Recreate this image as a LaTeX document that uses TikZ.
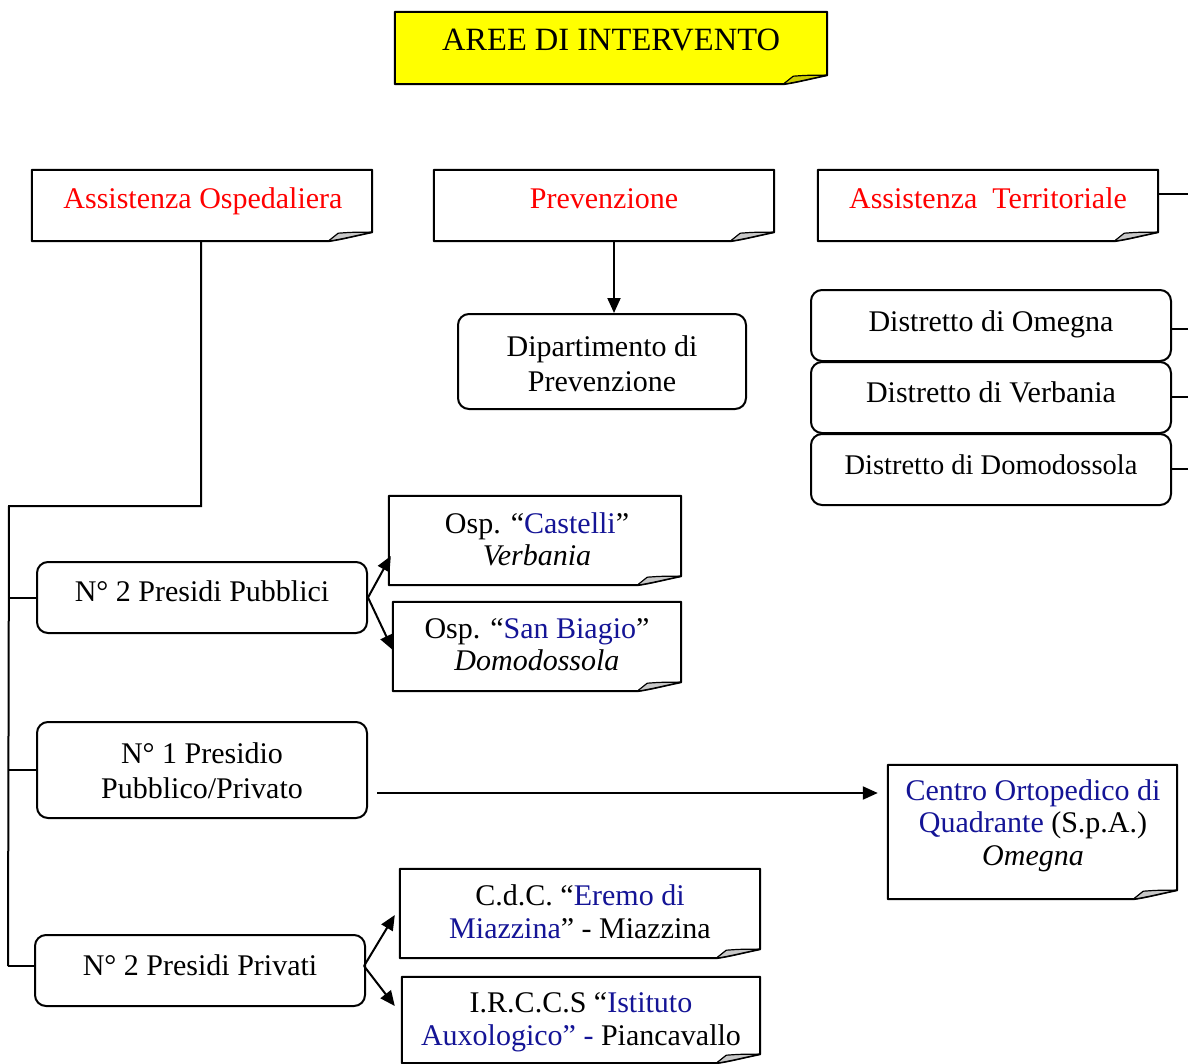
\documentclass[tikz,border=0pt]{standalone}
\usepackage{fontspec}
\setmainfont{Liberation Serif}
\usetikzlibrary{arrows.meta,calc}
\definecolor{navyblue}{RGB}{20,20,150}
\definecolor{foldgray}{RGB}{200,200,200}
\definecolor{titleyellow}{RGB}{255,255,0}
\definecolor{foldyellow}{RGB}{205,205,0}
\tikzset{
  boxline/.style={line width=2pt, draw=black},
  fbox/.style={rectangle, draw=none, inner sep=0pt},
  rbox/.style={rectangle, rounded corners=11pt, boxline, fill=white, inner sep=0pt},
  txt/.style={font=\fontsize{30}{35}\selectfont, align=center, inner sep=0pt, anchor=base},
  conn/.style={line width=2pt},
  arr/.style={conn, -{Triangle[length=15pt,width=13pt]}},
}
\newcommand\mkfold[3]{%
  \draw[boxline, line join=bevel, fill=#2] (#1.north west) -- (#1.north east) -- ($(#1.south east)+(0,-9)$)
    .. controls ($(#1.south east)+(-15,-6)$) and ($(#1.south east)+(-30,-2)$) .. ($(#1.south east)+(-44,0)$)
    -- (#1.south west) -- cycle;
  \draw[line width=1.2pt, line join=bevel, fill=#3] ($(#1.south east)+(-44,0)$) -- ($(#1.south east)+(-34,-8)$)
    .. controls ($(#1.south east)+(-20,-9)$) .. ($(#1.south east)+(0,-9)$)
    .. controls ($(#1.south east)+(-15,-6)$) and ($(#1.south east)+(-30,-2)$) .. ($(#1.south east)+(-44,0)$) -- cycle;
}
\begin{document}
\begin{tikzpicture}[x=1pt,y=-1pt]
\useasboundingbox (0,0) rectangle (1188,1063);

% title
\node[fbox, minimum width=432pt, minimum height=72pt] (title) at (611,48) {};
\mkfold{title}{titleyellow}{foldyellow}
\node[txt, font=\fontsize{32.5}{35}\selectfont] (titletxt) at (611,50) {AREE DI INTERVENTO};

% three areas
\node[fbox, minimum width=340pt, minimum height=71pt] (ao) at (202,205.5) {};
\mkfold{ao}{white}{foldgray}
\node[txt, text=red] (aotxt) at (203,208) {Assistenza Ospedaliera};

\node[fbox, minimum width=340pt, minimum height=71pt] (prev) at (604,205.5) {};
\mkfold{prev}{white}{foldgray}
\node[txt, text=red] (prevtxt) at (604,208) {Prevenzione};

\node[fbox, minimum width=340pt, minimum height=71pt] (at) at (988,205.5) {};
\mkfold{at}{white}{foldgray}
\node[txt, text=red] (attxt) at (988,208) {Assistenza\ \ Territoriale};

% prevention department
\node[rbox, minimum width=288pt, minimum height=95pt] (dip) at (602,361.5) {};
\node[txt] (diptxt) at (602,391) {Dipartimento di\\Prevenzione};

% districts
\node[rbox, minimum width=360pt, minimum height=71pt] (d1) at (991,325.5) {};
\node[txt] (d1txt) at (991,331.5) {Distretto di Omegna};
\node[rbox, minimum width=360pt, minimum height=71pt] (d2) at (991,397.5) {};
\node[txt] (d2txt) at (991,402.5) {Distretto di Verbania};
\node[rbox, minimum width=360pt, minimum height=71pt] (d3) at (991,469.5) {};
\node[txt, font=\fontsize{28.5}{34}\selectfont] (d3txt) at (991,474) {Distretto di Domodossola};

% presidi
\node[rbox, minimum width=330pt, minimum height=71pt] (pub) at (202,597.5) {};
\node[txt] (pubtxt) at (202,601.5) {N° 2 Presidi Pubblici};
\node[rbox, minimum width=330pt, minimum height=96pt] (pp) at (202,770) {};
\node[txt] (pptxt) at (202,798) {N° 1 Presidio\\Pubblico/Privato};
\node[rbox, minimum width=330pt, minimum height=71pt] (priv) at (200,970.5) {};
\node[txt] (privtxt) at (200,975) {N° 2 Presidi Privati};

% hospitals
\node[fbox, minimum width=292pt, minimum height=89pt] (cas) at (535,540.5) {};
\mkfold{cas}{white}{foldgray}
\node[txt, font=\fontsize{30}{32}\selectfont] (castxt) at (537,565) {Osp. “\textcolor{navyblue}{Castelli}”\\\textit{Verbania}};

\node[fbox, minimum width=288pt, minimum height=89pt] (sb) at (537,646.5) {};
\mkfold{sb}{white}{foldgray}
\node[txt, font=\fontsize{30}{32}\selectfont] (sbtxt) at (537,670) {Osp. “\textcolor{navyblue}{San Biagio}”\\\textit{Domodossola}};

\node[fbox, minimum width=289pt, minimum height=134pt] (cen) at (1032.5,832) {};
\mkfold{cen}{white}{foldgray}
\node[txt, font=\fontsize{30}{32.5}\selectfont] (centxt) at (1033,865) {\textcolor{navyblue}{Centro Ortopedico di}\\\textcolor{navyblue}{Quadrante} (S.p.A.)\\\textit{Omegna}};

\node[fbox, minimum width=360pt, minimum height=89pt] (cdc) at (580,913.5) {};
\mkfold{cdc}{white}{foldgray}
\node[txt, font=\fontsize{30}{33}\selectfont] (cdctxt) at (580,938) {C.d.C. “\textcolor{navyblue}{Eremo di}\\\textcolor{navyblue}{Miazzina}” - Miazzina};

\node[fbox, minimum width=358pt, minimum height=86pt] (irc) at (581,1020) {};
\mkfold{irc}{white}{foldgray}
\node[txt, font=\fontsize{30}{33}\selectfont] (irctxt) at (581,1045) {I.R.C.C.S “\textcolor{navyblue}{Istituto}\\\textcolor{navyblue}{Auxologico” -} Piancavallo};

% connectors
\coordinate (trunktop) at (9,506);
\coordinate (trunkbot) at (8,966);
\draw[conn] ([xshift=-1pt]ao.south) |- (trunktop) -- (trunkbot);
\draw[conn] (pub.west) -- (pub.west -| trunktop);
\draw[conn] (pp.west) -- (pp.west -| trunktop);
\draw[conn] ([yshift=4.5pt]priv.west) -- ([yshift=4.5pt]priv.west -| trunkbot);

\draw[arr] ([xshift=10pt]prev.south) -- ([xshift=12pt]dip.north);

\coordinate (atR) at (1188,194);
\draw[conn] ([yshift=11.5pt]at.east) -- (atR);
\coordinate (d1R) at (1188,329);
\coordinate (d2R) at (1188,397);
\coordinate (d3R) at (1188,469);
\draw[conn] (d1.east |- d1R) -- (d1R);
\draw[conn] (d2.east |- d2R) -- (d2R);
\draw[conn] (d3.east |- d3R) -- (d3R);

\draw[arr] (pub.east) -- ([xshift=2pt,yshift=-15.5pt]cas.west);
\draw[arr] (pub.east) -- ([yshift=-3.5pt]sb.west);

\draw[arr] ([xshift=9pt,yshift=-23pt]pp.east) -- ([xshift=-10pt,yshift=39pt]cen.west);

\draw[arr] ([xshift=-2pt,yshift=4.5pt]priv.east) -- ([xshift=-5pt,yshift=-1.5pt]cdc.west);
\draw[arr] ([xshift=-2pt,yshift=4.5pt]priv.east) -- ([xshift=-7pt,yshift=14pt]irc.west);
\end{tikzpicture}
\end{document}
